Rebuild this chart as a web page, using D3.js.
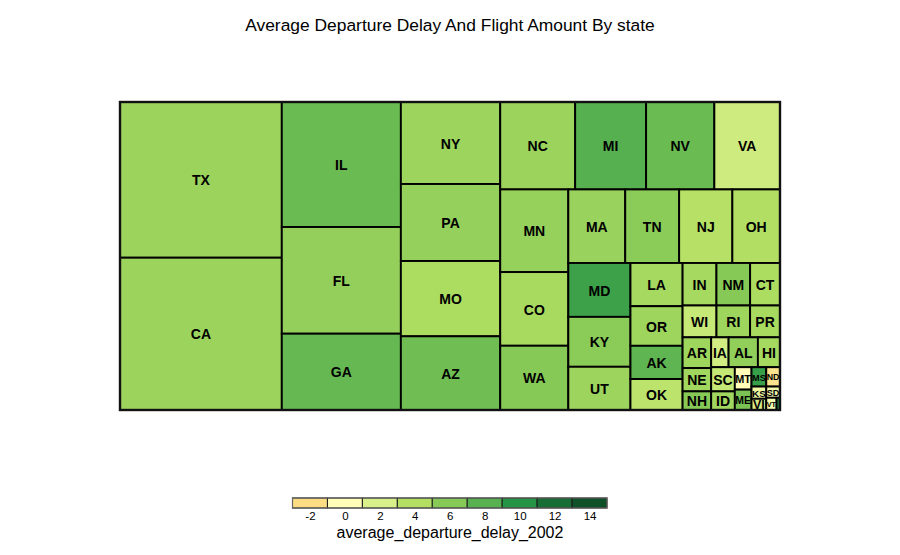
<!DOCTYPE html>
<html>
<head>
<meta charset="utf-8">
<script src="https://cdn.jsdelivr.net/npm/d3@7"></script>
<style>
  body { margin: 0; background: #fff; }
  text { font-family: "Liberation Sans", Arial, Helvetica, sans-serif; }
</style>
</head>
<body>
<svg id="chart" width="900" height="555"></svg>
<script>
// ---- data ----
const states = ["TX","CA","IL","FL","GA","NY","PA","MO","AZ","NC","MI","NV","VA","MN","CO","WA",
  "MA","TN","NJ","OH","MD","KY","UT","LA","OR","AK","OK","IN","NM","CT","WI","RI","PR",
  "AR","NE","NH","IA","AL","HI","SC","ID","MT","ME","MS","ND","KS","VI","SD","VT","WY"];
const flights = [25177,24627,14875,12697,9080,8143,7646,7477,7318,6548,6198,5963,5736,5624,5012,4372,
  4184,3964,3912,3501,3348,3100,2685,2252,2064,1732,1612,1438,1430,1269,1078,1070,951,
  878,665,532,520,875,660,572,440,374,340,285,266,180,165,154,126,42];
const delays = [5.1,5.1,7.2,5.45,7.4,5.05,5.4,4.3,7.0,5.1,8.05,7.2,2.6,5.3,4.5,6.0,
  5.2,5.8,3.85,4.05,9.1,5.8,5.05,4.6,5.0,7.7,3.5,4.6,6.0,4.3,3.0,4.95,4.5,
  4.95,4.8,6.0,2.4,5.5,4.6,3.1,4.8,0.0,6.5,9.3,-1.6,1.0,2.1,0.6,0.5,11.4];
const legendValues = [-2,0,2,4,6,8,10,12,14];
const legendColors = ["#FDDC84","#FFFDB8","#D8EF8A","#B3E063","#87C957","#58B150","#269445","#166E35","#0E5129"];
const titleText = "Average Departure Delay And Flight Amount By state";
const legendTitle = "average_departure_delay_2002";

// ---- chart ----
const svg = d3.select("#chart");
const box = {x: 120, y: 102, w: 660, h: 308};
const color = d3.scaleLinear().domain(legendValues).range(legendColors).clamp(true);

svg.append("text")
  .attr("x", 450).attr("y", 31)
  .attr("text-anchor", "middle")
  .attr("font-size", 17.4)
  .attr("fill", "#000")
  .text(titleText);

const root = d3.hierarchy({children: states.map((s, i) => ({state: s, flights: flights[i], delay: delays[i]}))})
  .sum(d => d.flights || 0);

d3.treemap()
  .size([box.w, box.h])
  .tile(d3.treemapSquarify.ratio(1.16))(root);

const g = svg.append("g").attr("transform", `translate(${box.x},${box.y})`);

const cell = g.selectAll("g.cell").data(root.leaves()).join("g").attr("class", "cell");

cell.append("rect")
  .attr("x", d => d.x0).attr("y", d => d.y0)
  .attr("width", d => d.x1 - d.x0).attr("height", d => d.y1 - d.y0)
  .attr("fill", d => color(d.data.delay))
  .attr("stroke", "#000")
  .attr("stroke-width", 1.9);

cell.append("text")
  .attr("x", d => (d.x0 + d.x1) / 2)
  .attr("y", d => (d.y0 + d.y1) / 2)
  .attr("text-anchor", "middle")
  .attr("dy", "0.40em")
  .attr("font-weight", "bold")
  .attr("font-size", 14)
  .attr("fill", "#000")
  .text(d => d.data.state)
  .each(function(d) {
    const w = d.x1 - d.x0, h = d.y1 - d.y0;
    const len = this.getComputedTextLength();
    const s = Math.min(1, (w - 1) / len, (h - 1) / 11.5);
    const fs = 14 * s;
    if (fs < 3) d3.select(this).remove();
    else d3.select(this).attr("font-size", fs);
  });

g.append("rect")
  .attr("x", 0).attr("y", 0).attr("width", box.w).attr("height", box.h)
  .attr("fill", "none").attr("stroke", "#111").attr("stroke-width", 2.4);

// ---- legend ----
const lx = d3.scaleLinear().domain([-3, 15]).range([292.5, 607]);
const leg = svg.append("g");
leg.selectAll("rect.bin").data(legendValues).join("rect").attr("class", "bin")
  .attr("x", v => lx(v - 1)).attr("y", 498)
  .attr("width", v => lx(v + 1) - lx(v - 1)).attr("height", 10)
  .attr("fill", (v, i) => legendColors[i])
  .attr("stroke", "#1a1a1a").attr("stroke-width", 1);
leg.append("rect")
  .attr("x", lx(-3)).attr("y", 498).attr("width", lx(15) - lx(-3)).attr("height", 10)
  .attr("fill", "none").attr("stroke", "#666").attr("stroke-width", 1.2);

const axis = d3.axisBottom(lx).tickValues(legendValues).tickSize(0).tickPadding(0).tickFormat(d3.format("d"));
const ax = svg.append("g").attr("transform", "translate(0,512)").call(axis);
ax.select(".domain").remove();
ax.selectAll("text").attr("font-size", 11.5).attr("fill", "#000")
  .attr("font-family", "\"Liberation Sans\", Arial, Helvetica, sans-serif")
  .text(d => d < 0 ? "-" + Math.abs(d) : d);

svg.append("text")
  .attr("x", 450).attr("y", 537.5)
  .attr("text-anchor", "middle")
  .attr("font-size", 16)
  .attr("fill", "#000")
  .text(legendTitle);
</script>
</body>
</html>
